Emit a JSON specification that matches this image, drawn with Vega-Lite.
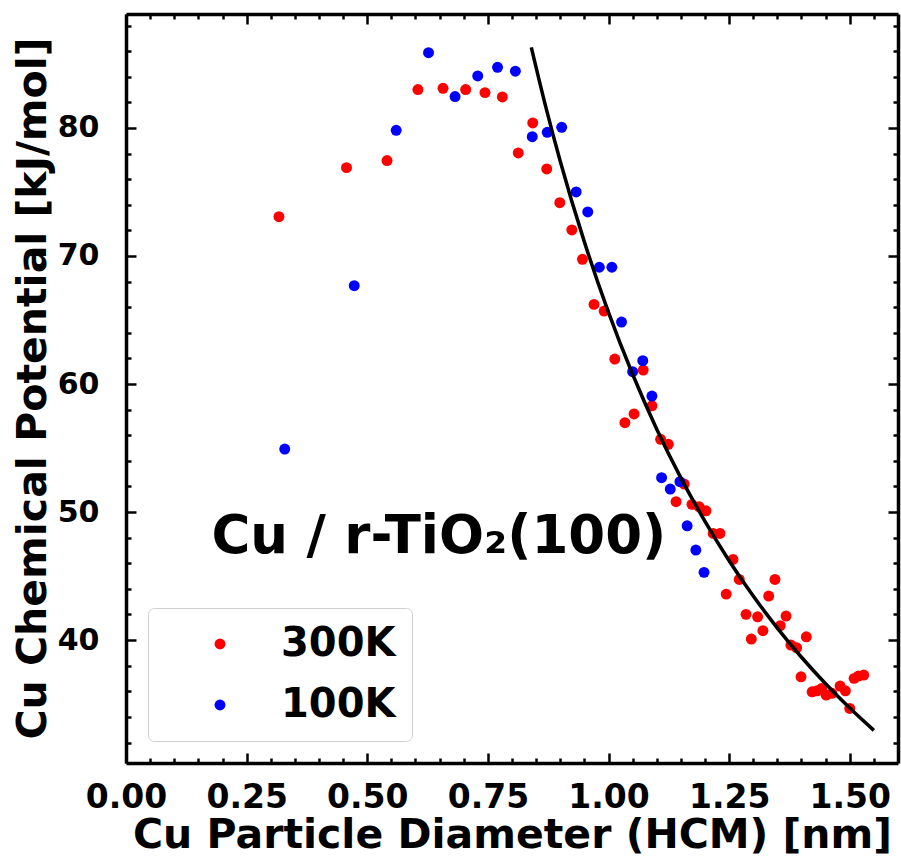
{
  "$schema": "https://vega.github.io/schema/vega-lite/v6.json",
  "width": 772,
  "height": 749,
  "autosize": "none",
  "padding": {"left": 126, "top": 14, "right": 3, "bottom": 95},
  "background": "white",
  "config": {
    "font": "DejaVu Sans",
    "view": {"stroke": null},
    "axis": {
      "domainColor": "black",
      "domainWidth": 3.5,
      "tickColor": "black",
      "tickWidth": 2.5,
      "grid": false,
      "labelFont": "DejaVu Sans",
      "labelFontWeight": "bold",
      "labelColor": "black",
      "titleFont": "DejaVu Sans",
      "titleFontWeight": "bold",
      "titleFontSize": 41,
      "titleColor": "black"
    },
    "legend": {
      "labelFont": "DejaVu Sans",
      "labelFontWeight": "bold",
      "labelFontSize": 40,
      "labelColor": "black"
    }
  },
  "datasets": {
    "points": [
      {"d": 0.317, "mu": 73.07, "T": "300K"},
      {"d": 0.457, "mu": 76.9, "T": "300K"},
      {"d": 0.541, "mu": 77.45, "T": "300K"},
      {"d": 0.605, "mu": 83.0, "T": "300K"},
      {"d": 0.657, "mu": 83.1, "T": "300K"},
      {"d": 0.704, "mu": 83.0, "T": "300K"},
      {"d": 0.744, "mu": 82.76, "T": "300K"},
      {"d": 0.780, "mu": 82.42, "T": "300K"},
      {"d": 0.843, "mu": 80.39, "T": "300K"},
      {"d": 0.813, "mu": 78.05, "T": "300K"},
      {"d": 0.872, "mu": 76.8, "T": "300K"},
      {"d": 0.899, "mu": 74.16, "T": "300K"},
      {"d": 0.924, "mu": 72.03, "T": "300K"},
      {"d": 0.946, "mu": 69.74, "T": "300K"},
      {"d": 0.970, "mu": 66.22, "T": "300K"},
      {"d": 0.991, "mu": 65.70, "T": "300K"},
      {"d": 1.013, "mu": 61.95, "T": "300K"},
      {"d": 1.072, "mu": 61.09, "T": "300K"},
      {"d": 1.090, "mu": 58.30, "T": "300K"},
      {"d": 1.053, "mu": 57.66, "T": "300K"},
      {"d": 1.034, "mu": 56.98, "T": "300K"},
      {"d": 1.108, "mu": 55.68, "T": "300K"},
      {"d": 1.124, "mu": 55.29, "T": "300K"},
      {"d": 1.157, "mu": 52.19, "T": "300K"},
      {"d": 1.140, "mu": 50.81, "T": "300K"},
      {"d": 1.173, "mu": 50.60, "T": "300K"},
      {"d": 1.188, "mu": 50.41, "T": "300K"},
      {"d": 1.202, "mu": 50.10, "T": "300K"},
      {"d": 1.217, "mu": 48.33, "T": "300K"},
      {"d": 1.231, "mu": 48.33, "T": "300K"},
      {"d": 1.258, "mu": 46.30, "T": "300K"},
      {"d": 1.271, "mu": 44.74, "T": "300K"},
      {"d": 1.244, "mu": 43.59, "T": "300K"},
      {"d": 1.345, "mu": 44.74, "T": "300K"},
      {"d": 1.332, "mu": 43.44, "T": "300K"},
      {"d": 1.285, "mu": 42.01, "T": "300K"},
      {"d": 1.309, "mu": 41.82, "T": "300K"},
      {"d": 1.368, "mu": 41.88, "T": "300K"},
      {"d": 1.356, "mu": 41.12, "T": "300K"},
      {"d": 1.320, "mu": 40.73, "T": "300K"},
      {"d": 1.296, "mu": 40.08, "T": "300K"},
      {"d": 1.410, "mu": 40.26, "T": "300K"},
      {"d": 1.378, "mu": 39.61, "T": "300K"},
      {"d": 1.390, "mu": 39.40, "T": "300K"},
      {"d": 1.399, "mu": 37.13, "T": "300K"},
      {"d": 1.422, "mu": 35.96, "T": "300K"},
      {"d": 1.432, "mu": 36.04, "T": "300K"},
      {"d": 1.442, "mu": 36.23, "T": "300K"},
      {"d": 1.451, "mu": 35.70, "T": "300K"},
      {"d": 1.463, "mu": 35.84, "T": "300K"},
      {"d": 1.480, "mu": 36.41, "T": "300K"},
      {"d": 1.491, "mu": 36.04, "T": "300K"},
      {"d": 1.500, "mu": 34.66, "T": "300K"},
      {"d": 1.509, "mu": 37.01, "T": "300K"},
      {"d": 1.518, "mu": 37.19, "T": "300K"},
      {"d": 1.529, "mu": 37.27, "T": "300K"},
      {"d": 0.329, "mu": 54.92, "T": "100K"},
      {"d": 0.473, "mu": 67.68, "T": "100K"},
      {"d": 0.560, "mu": 79.82, "T": "100K"},
      {"d": 0.627, "mu": 85.88, "T": "100K"},
      {"d": 0.682, "mu": 82.45, "T": "100K"},
      {"d": 0.729, "mu": 84.06, "T": "100K"},
      {"d": 0.770, "mu": 84.74, "T": "100K"},
      {"d": 0.807, "mu": 84.43, "T": "100K"},
      {"d": 0.842, "mu": 79.32, "T": "100K"},
      {"d": 0.873, "mu": 79.66, "T": "100K"},
      {"d": 0.903, "mu": 80.05, "T": "100K"},
      {"d": 0.933, "mu": 75.0, "T": "100K"},
      {"d": 0.957, "mu": 73.44, "T": "100K"},
      {"d": 0.981, "mu": 69.12, "T": "100K"},
      {"d": 1.007, "mu": 69.12, "T": "100K"},
      {"d": 1.027, "mu": 64.84, "T": "100K"},
      {"d": 1.071, "mu": 61.82, "T": "100K"},
      {"d": 1.050, "mu": 60.96, "T": "100K"},
      {"d": 1.090, "mu": 59.06, "T": "100K"},
      {"d": 1.110, "mu": 52.68, "T": "100K"},
      {"d": 1.148, "mu": 52.37, "T": "100K"},
      {"d": 1.128, "mu": 51.80, "T": "100K"},
      {"d": 1.163, "mu": 48.93, "T": "100K"},
      {"d": 1.181, "mu": 47.03, "T": "100K"},
      {"d": 1.198, "mu": 45.29, "T": "100K"}
    ],
    "fit": [
      {"d": 0.84, "mu": 86.3},
      {"d": 0.87, "mu": 81.65},
      {"d": 0.90, "mu": 77.4},
      {"d": 0.95, "mu": 71.1},
      {"d": 1.00, "mu": 65.6},
      {"d": 1.05, "mu": 60.76},
      {"d": 1.10, "mu": 56.47},
      {"d": 1.15, "mu": 52.67},
      {"d": 1.20, "mu": 49.27},
      {"d": 1.25, "mu": 46.2},
      {"d": 1.30, "mu": 43.44},
      {"d": 1.35, "mu": 40.94},
      {"d": 1.40, "mu": 38.66},
      {"d": 1.45, "mu": 36.59},
      {"d": 1.50, "mu": 34.69},
      {"d": 1.55, "mu": 32.95}
    ]
  },
  "layer": [
    {
      "data": {"name": "points"},
      "mark": {"type": "circle", "size": 120, "opacity": 1},
      "encoding": {
        "x": {
          "field": "d", "type": "quantitative",
          "scale": {"domain": [0, 1.6], "nice": false, "zero": false},
          "axis": {
            "orient": "bottom",
            "title": "Cu Particle Diameter (HCM) [nm]",
            "values": [0, 0.25, 0.5, 0.75, 1.0, 1.25, 1.5],
            "format": ".2f",
            "ticks": true,
            "tickSize": 0,
            "labelFontSize": 33,
            "labelPadding": 18,
            "labelOverlap": false,
            "labelFlush": false,
            "titleX": 386,
            "titleY": 84,
            "titleBaseline": "alphabetic",
            "titleAlign": "center"
          }
        },
        "y": {
          "field": "mu", "type": "quantitative",
          "scale": {"domain": [30.4, 88.9], "nice": false, "zero": false},
          "axis": {
            "orient": "left",
            "title": "Cu Chemical Potential [kJ/mol]",
            "values": [40, 50, 60, 70, 80],
            "format": "d",
            "ticks": true,
            "tickSize": 0,
            "labelFontSize": 30,
            "labelPadding": 27,
            "labelOverlap": false,
            "labelFlush": false,
            "titleX": -81,
            "titleY": 374,
            "titleBaseline": "alphabetic",
            "titleAlign": "center",
            "titleAngle": -90
          }
        },
        "color": {
          "field": "T", "type": "nominal",
          "scale": {"domain": ["300K", "100K"], "range": ["#ff0000", "#0000ff"]},
          "legend": {
            "title": null,
            "orient": "none",
            "legendX": 22,
            "legendY": 594,
            "padding": 16,
            "symbolType": "circle",
            "symbolSize": 120,
            "symbolOffset": 36,
            "labelOffset": 41,
            "rowPadding": 21,
            "strokeColor": "#d0d0d0",
            "fillColor": "white",
            "cornerRadius": 6
          }
        }
      }
    },
    {
      "data": {"name": "fit"},
      "mark": {"type": "line", "color": "black", "strokeWidth": 3.5, "interpolate": "monotone"},
      "encoding": {
        "x": {
          "field": "d", "type": "quantitative",
          "axis": {
            "orient": "top",
            "title": null,
            "values": [0,0.05,0.1,0.15,0.2,0.25,0.3,0.35,0.4,0.45,0.5,0.55,0.6,0.65,0.7,0.75,0.8,0.85,0.9,0.95,1.0,1.05,1.1,1.15,1.2,1.25,1.3,1.35,1.4,1.45,1.5,1.55],
            "labels": false,
            "tickSize": {"condition": {"test": "round(datum.value*100) % 25 === 0", "value": -10}, "value": -5}
          }
        },
        "y": {
          "field": "mu", "type": "quantitative",
          "axis": {
            "orient": "right",
            "title": null,
            "values": [32,34,36,38,40,42,44,46,48,50,52,54,56,58,60,62,64,66,68,70,72,74,76,78,80,82,84,86,88],
            "labels": false,
            "tickSize": {"condition": {"test": "datum.value % 10 === 0", "value": -10}, "value": -5}
          }
        }
      }
    },
    {
      "data": {"values": [{}]},
      "mark": {"type": "text", "text": "Cu / r-TiO₂(100)", "font": "DejaVu Sans", "fontWeight": "bold", "fontSize": 53, "align": "left", "baseline": "alphabetic", "color": "black"},
      "encoding": {
        "x": {
          "datum": 0.177, "type": "quantitative",
          "axis": {
            "orient": "bottom",
            "title": null,
            "domain": false,
            "values": [0,0.05,0.1,0.15,0.2,0.25,0.3,0.35,0.4,0.45,0.5,0.55,0.6,0.65,0.7,0.75,0.8,0.85,0.9,0.95,1.0,1.05,1.1,1.15,1.2,1.25,1.3,1.35,1.4,1.45,1.5,1.55],
            "labels": false,
            "tickSize": {"condition": {"test": "round(datum.value*100) % 25 === 0", "value": -10}, "value": -5}
          }
        },
        "y": {
          "datum": 46.8, "type": "quantitative",
          "axis": {
            "orient": "left",
            "title": null,
            "domain": false,
            "values": [32,34,36,38,40,42,44,46,48,50,52,54,56,58,60,62,64,66,68,70,72,74,76,78,80,82,84,86,88],
            "labels": false,
            "tickSize": {"condition": {"test": "datum.value % 10 === 0", "value": -10}, "value": -5}
          }
        }
      }
    }
  ],
  "resolve": {"axis": {"x": "independent", "y": "independent"}}
}
